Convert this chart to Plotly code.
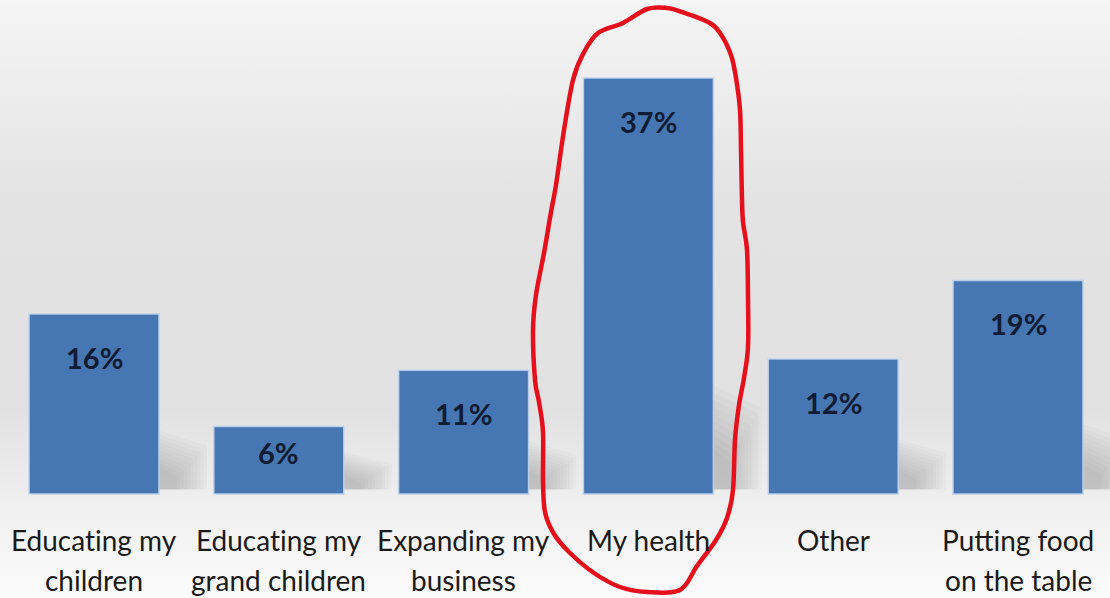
import base64
import plotly.graph_objects as go

# Survey results: what people would spend extra money on
categories = ["Educating my<br>children", "Educating my<br>grand children",
              "Expanding my<br>business", "My health", "Other",
              "Putting food<br>on the table"]
values = [16, 6, 11, 37, 12, 19]
value_labels = ["16%", "6%", "11%", "37%", "12%", "19%"]

W, H = 1110, 598
BAR_COLOR = "#4677b2"
LABEL_FONT = "Lato, 'Open Sans', sans-serif"
BAR_WIDTH = 0.703

# Soft grey vertical background gradient
bg_svg = (
    f'<svg xmlns="http://www.w3.org/2000/svg" width="{W}" height="{H}" '
    f'viewBox="0 0 {W} {H}" preserveAspectRatio="none">'
    '<defs><linearGradient id="g" x1="0" y1="0" x2="0" y2="1">'
    '<stop offset="0" stop-color="#f5f5f5"/>'
    '<stop offset="0.33" stop-color="#e3e3e3"/>'
    '<stop offset="0.68" stop-color="#e1e1e1"/>'
    '<stop offset="0.84" stop-color="#efefef"/>'
    '<stop offset="1" stop-color="#fbfbfb"/>'
    '</linearGradient></defs>'
    f'<rect x="0" y="0" width="{W}" height="{H}" fill="url(#g)"/></svg>'
)
bg_uri = "data:image/svg+xml;base64," + base64.b64encode(bg_svg.encode()).decode()

# Map the axes so the baseline sits 104 px above the bottom edge
px_per_unit = 416 / 37
y_top = 494 / px_per_unit
y_bottom = -(H - 494) / px_per_unit
cat_px = 184.8
x_left = -94 / cat_px
x_right = (W - 94) / cat_px

idx = list(range(len(categories)))

fig = go.Figure()
fig.add_trace(go.Bar(
    x=idx, y=values,
    width=BAR_WIDTH,
    marker=dict(color=BAR_COLOR, line=dict(color="rgba(190,210,238,0.9)", width=1.5)),
    hoverinfo="skip",
))

annotations = []
for i, (v, t) in enumerate(zip(values, value_labels)):
    bar_px = v * px_per_unit
    annotations.append(dict(
        x=i, y=v, xref="x", yref="y", text=f"<b>{t}</b>", showarrow=False,
        yanchor="middle", yshift=-min(43, 0.38 * bar_px),
        font=dict(family=LABEL_FONT, size=29, color="#101c33"),
    ))
for i, c in enumerate(categories):
    for k, line in enumerate(c.split("<br>")):
        annotations.append(dict(
            x=i, y=0, xref="x", yref="y",
            text=line.replace("ti", "t\u200ci"), showarrow=False,
            yanchor="middle", yshift=-46 - 40 * k,
            font=dict(family=LABEL_FONT, size=28, color="#1a1a1a"),
        ))

shapes = []
# Soft drop shadows to the lower right of each bar, built from stacked
# translucent wedges so the edge fades out
half = BAR_WIDTH / 2
n_layers = 10
for i, v in enumerate(values):
    xr = i + half
    for j in range(n_layers):
        spread = 1.0 - 0.07 * j
        h_top = (0.19 * v + 2.0) * spread
        w = 0.26 * spread
        shapes.append(dict(
            type="path", xref="x", yref="y", layer="below",
            path=(f"M {xr},{0.4} L {xr},{h_top + 0.6} "
                  f"L {xr + w},{h_top * 0.85} L {xr + w},{0.4} Z"),
            fillcolor="rgba(80,80,80,0.028)", line=dict(width=0),
        ))

# Hand-drawn red loop around the highlighted category (pixel positions)
loop_px = [
    (647, 9), (667, 8), (682, 12), (708, 22), (720, 33), (731, 55), (736, 78),
    (740, 110), (741, 150), (742, 200), (743, 222), (747, 250), (748, 297),
    (748, 347), (744, 378), (739, 405), (735, 440), (733, 490), (727, 518),
    (716, 540), (697, 566), (680, 590), (647, 592), (620, 587), (594, 573),
    (570, 553), (554, 534), (545, 512), (543, 480), (543, 432), (539, 402),
    (535, 380), (533, 330), (536, 295), (544, 253), (551, 212), (556, 185),
    (564, 130), (573, 80), (583, 54), (598, 33), (623, 23),
]


def to_paper(p):
    return p[0] / W, 1 - p[1] / H


def smooth_closed_path(pts):
    n = len(pts)
    pp = [to_paper(p) for p in pts]
    d = f"M {pp[0][0]:.5f},{pp[0][1]:.5f}"
    for k in range(n):
        p0, p1, p2, p3 = pp[k - 1], pp[k], pp[(k + 1) % n], pp[(k + 2) % n]
        c1 = (p1[0] + (p2[0] - p0[0]) / 6, p1[1] + (p2[1] - p0[1]) / 6)
        c2 = (p2[0] - (p3[0] - p1[0]) / 6, p2[1] - (p3[1] - p1[1]) / 6)
        d += (f" C {c1[0]:.5f},{c1[1]:.5f} {c2[0]:.5f},{c2[1]:.5f}"
              f" {p2[0]:.5f},{p2[1]:.5f}")
    return d + " Z"


shapes.append(dict(
    type="path", xref="paper", yref="paper", path=smooth_closed_path(loop_px),
    line=dict(color="#e5101c", width=4.5), fillcolor="rgba(0,0,0,0)", layer="above",
))

fig.update_layout(
    width=W, height=H,
    margin=dict(l=0, r=0, t=0, b=0),
    paper_bgcolor="#ebebeb",
    plot_bgcolor="rgba(0,0,0,0)",
    showlegend=False,
    xaxis=dict(range=[x_left, x_right], visible=False, fixedrange=True),
    yaxis=dict(range=[y_bottom, y_top], visible=False, fixedrange=True),
    annotations=annotations,
    shapes=shapes,
    images=[dict(source=bg_uri, xref="paper", yref="paper", x=0, y=1,
                 sizex=1, sizey=1, sizing="stretch", layer="below",
                 xanchor="left", yanchor="top")],
)

fig.write_html("out.html", config={"displayModeBar": False})
